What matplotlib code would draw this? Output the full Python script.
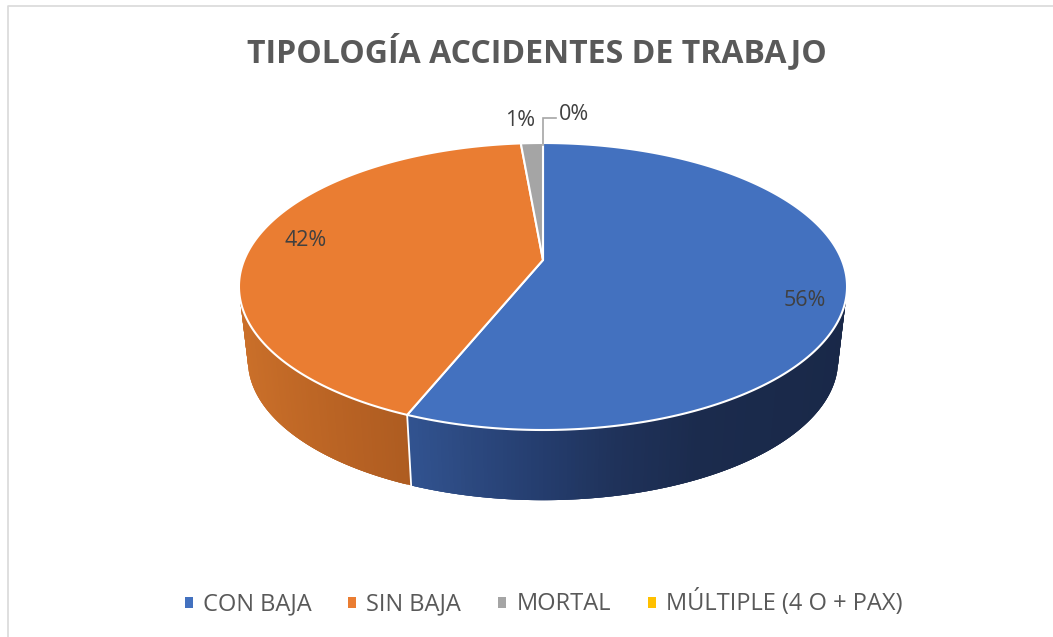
import numpy as np
import matplotlib
matplotlib.use("Agg")
import matplotlib.pyplot as plt
from matplotlib.patches import Patch

categories = ["CON BAJA", "SIN BAJA", "MORTAL", "MÚLTIPLE (4 O + PAX)"]
values = [56.15, 42.45, 1.4, 0.0]
colors = ["#4371BF", "#EA7D32", "#A5A5A5", "#FFC000"]
title = "TIPOLOGÍA ACCIDENTES DE TRABAJO"
FONT = "Open Sans"
TXT = "#595959"
LBL = "#404040"

fig = plt.figure(figsize=(10.53, 6.37), dpi=100, facecolor="white")
ax = fig.add_axes([0, 0, 1, 1])
ax.set_xlim(0, 1053)
ax.set_ylim(637, 0)
ax.axis("off")

CX, CY = 543.0, 260.0
K = 0.1847


def top_rim(t):
    u, v = np.sin(t), np.cos(t)
    w = 1 + K * v
    return CX + 298.8 * u / w, CY - 138.6 * v / w


def bottom_rim(t):
    u, v = np.sin(t), np.cos(t)
    w = 1 + K * v
    return CX + 290.0 * u / w, CY + 74.6 - 135.0 * v / w


# side shading, sampled by screen x
shade = {
    0: ([407, 470, 550, 620, 700, 850],
        [(50, 84, 145), (44, 73, 128), (36, 60, 108), (31, 50, 90), (27, 43, 77), (25, 40, 72)]),
    1: ([240, 300, 360, 411],
        [(203, 112, 42), (192, 104, 38), (182, 97, 35), (174, 92, 33)]),
}


def shade_color(i, x):
    xs, cs = shade[i]
    return tuple(np.interp(x, xs, [c[j] for c in cs]) / 255 for j in range(3))


fractions = np.array(values) / sum(values)
edges = np.concatenate([[0.0], np.cumsum(fractions)]) * 2 * np.pi

# front wall: painted strip over strip, each reaching under the next
T_LO, T_HI = np.pi * 0.5 - 0.19, np.pi * 1.5 + 0.19
for i, val in enumerate(values):
    if val <= 0 or i not in shade:
        continue
    a, b = max(edges[i], T_LO), min(edges[i + 1], T_HI)
    if b <= a:
        continue
    ts = np.linspace(a, b, int((b - a) * 90) + 2)
    for j in range(len(ts) - 1):
        t0 = ts[j]
        t1 = ts[min(j + 3, len(ts) - 1)]
        mid = np.linspace(t0, t1, 4)
        xt, yt = top_rim(mid)
        xu, yu = bottom_rim(mid[::-1])
        c = shade_color(i, (xt[0] + xu[-1]) / 2)
        ax.fill(np.r_[xt, xu], np.r_[yt, yu], facecolor=c, edgecolor="none", lw=0, zorder=2)

# seam on the wall
seam = edges[1]
xa, ya = top_rim(seam)
xb, yb = bottom_rim(seam)
ax.plot([xa, xb], [ya, yb], color="white", lw=1.3, zorder=3)

# top face
for i, val in enumerate(values):
    if val <= 0:
        continue
    ts = np.linspace(edges[i], edges[i + 1], 300)
    xs, ys = top_rim(ts)
    ax.fill(np.r_[CX, xs], np.r_[CY, ys], facecolor=colors[i], edgecolor="white",
            lw=1.5, joinstyle="round", zorder=4)

# data labels
label_pos = [(805, 300), (306, 241), (520, 120), (574, 115)]
for val, (lx, ly) in zip(values, label_pos):
    ax.text(lx, ly, f"{val:.0f}%", ha="center", va="center", fontsize=15.5,
            family=FONT, color=LBL, zorder=6)

# leader line for the zero slice
ax.plot([543, 543, 556], [145, 118, 118], color="#A6A6A6", lw=1.2, zorder=5,
        solid_joinstyle="miter")

ax.text(536.5, 52, title, ha="center", va="center", fontsize=23, fontweight="bold",
        family=FONT, color=TXT)

# chart frame
ax.plot([8, 8, 1053], [637, 6, 6], color="#D9D9D9", lw=1.2, zorder=1)

handles = [Patch(facecolor=c, edgecolor="none") for c in colors]
leg = ax.legend(handles, categories, ncol=4, loc="center", frameon=False,
                bbox_to_anchor=(543.5, 603), bbox_transform=ax.transData,
                prop={"family": FONT, "size": 17}, labelcolor=TXT,
                handlelength=0.34, handleheight=0.34, handletextpad=0.42,
                columnspacing=1.57, borderpad=0, borderaxespad=0)

fig.savefig("out.png", dpi=100, facecolor="white")
